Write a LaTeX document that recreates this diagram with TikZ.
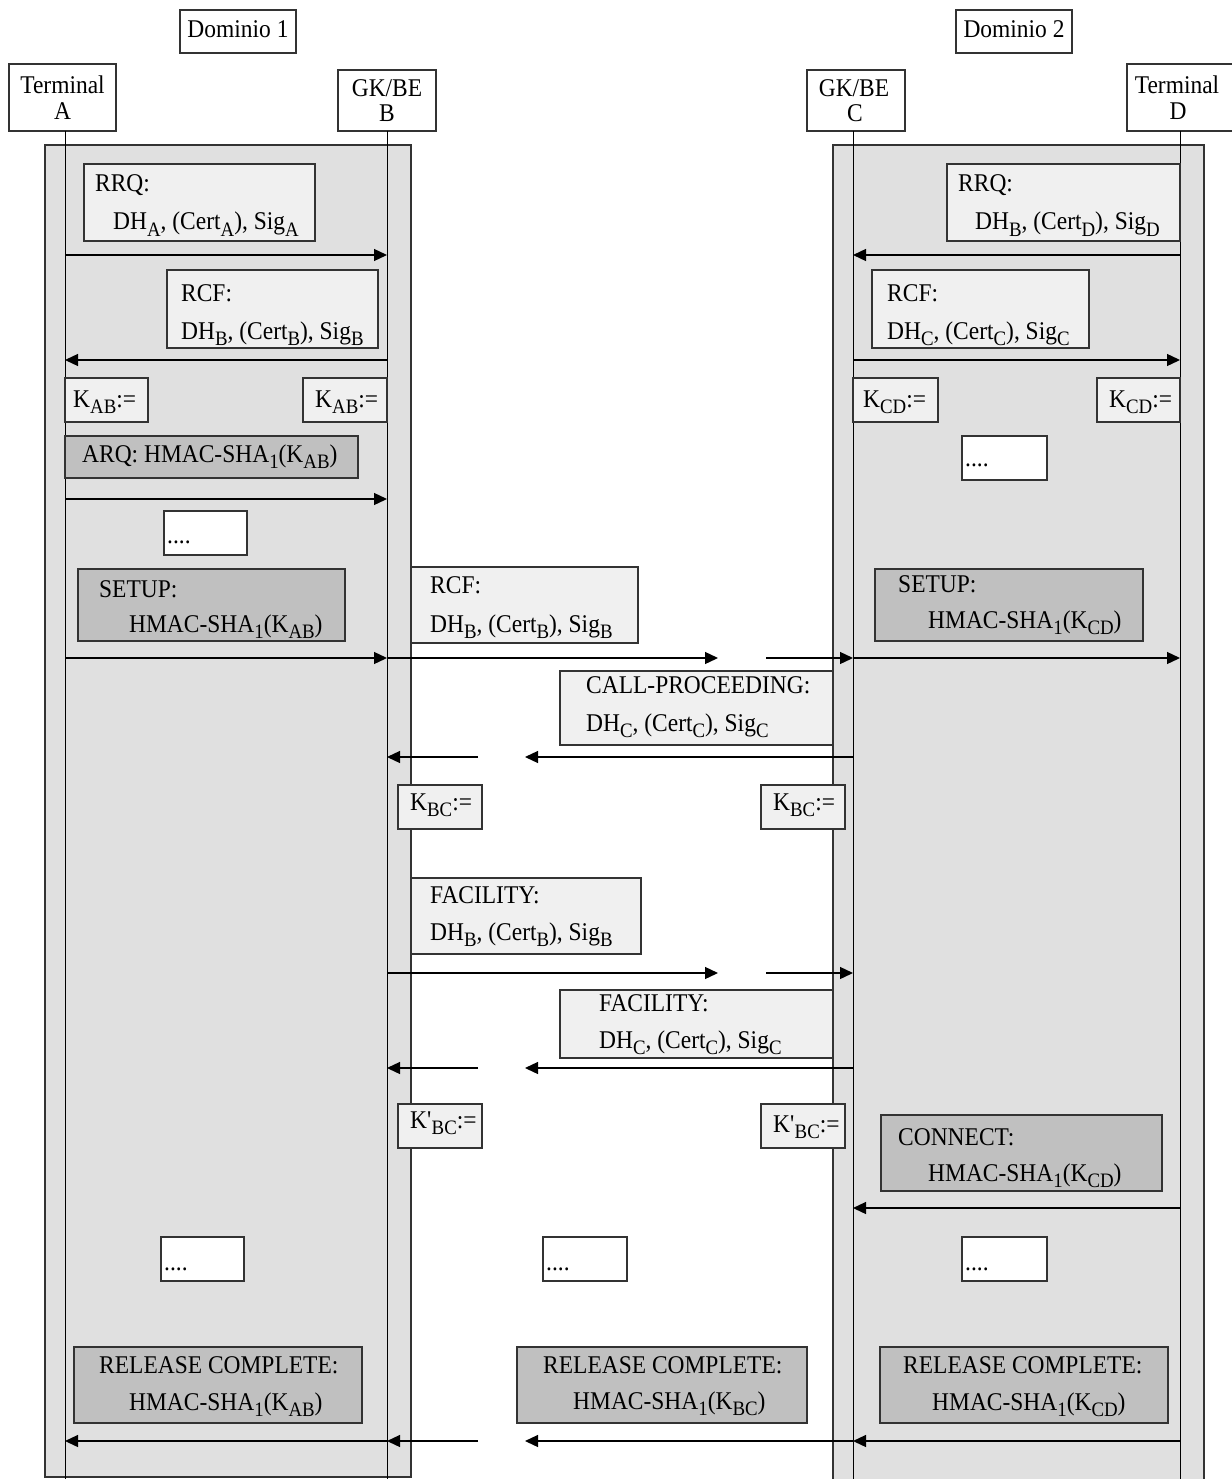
\documentclass[tikz,border=0pt]{standalone}
\usepackage{fontspec}
\setmainfont{Liberation Serif}[FakeStretch=0.92]
\usetikzlibrary{arrows.meta,fit}
\newcommand\sbs[1]{\raisebox{-6pt}{\fontsize{20.5}{20.5}\selectfont #1}}
\definecolor{domfill}{HTML}{E0E0E0}
\definecolor{litefill}{HTML}{F0F0F0}
\definecolor{darkfill}{HTML}{C0C0C0}
\definecolor{edgecol}{HTML}{333333}
\newcommand\bx[4]{\node[#2, fit={#3 #4}] (#1) {};}
\newcommand\tl[3]{\node[txt] (#1) at #2 {#3};}
\newcommand\msg[3]{\draw[msgarrow] (#1 |- 0,#3) -- (#2 |- 0,#3);}
\begin{document}
\begin{tikzpicture}[x=1pt,y=-1pt,
  every node/.style={font=\fontsize{25.5}{30}\selectfont},
  txt/.style={inner sep=0pt, anchor=base west},
  ctxt/.style={inner sep=0pt, anchor=base},
  hdr/.style={draw=edgecol, line width=1.3pt, fill=white, inner sep=0pt},
  lite/.style={draw=edgecol, line width=1.3pt, fill=litefill, inner sep=0pt},
  dark/.style={draw=edgecol, line width=1.3pt, fill=darkfill, inner sep=0pt},
  dotbox/.style={draw=edgecol, line width=1.3pt, fill=white, inner sep=0pt},
  dombox/.style={draw=edgecol, line width=1.5pt, fill=domfill, inner sep=0pt},
  life/.style={draw=black, line width=1pt},
  msgarrow/.style={draw=black, line width=1.3pt, -{Triangle[length=13pt,width=12pt]}}
]
\useasboundingbox[fill=white] (0,0) rectangle (1231,1479);

% header boxes
\bx{dom1}{hdr}{(180,10)}{(296,53)}
\node[ctxt] (dom1t) at (238,38) {Dominio 1};
\bx{dom2}{hdr}{(956,10)}{(1072,53)}
\node[ctxt] (dom2t) at (1014,38) {Dominio 2};
\bx{tA}{hdr}{(9,64)}{(116,131)}
\node[ctxt] (tA1) at (62.5,94) {Terminal};
\node[ctxt] (tA2) at (62.5,120) {A};
\bx{gB}{hdr}{(338,70)}{(436,131)}
\node[ctxt] (gB1) at (387,97) {GK/BE};
\node[ctxt] (gB2) at (387,122) {B};
\bx{gC}{hdr}{(807,70)}{(905,131)}
\node[ctxt] (gC1) at (854,97) {GK/BE};
\node[ctxt] (gC2) at (855,122) {C};
\bx{tD}{hdr}{(1127,64)}{(1245,131)}
\node[ctxt] (tD1) at (1177,94) {Terminal};
\node[ctxt] (tD2) at (1178,120) {D};

% domain boxes
\bx{domL}{dombox}{(45,145)}{(411,1477)}
\bx{domR}{dombox}{(833,145)}{(1204,1495)}

% lifelines
\coordinate (LA) at (65,131);  \coordinate (LAe) at (65,1479);
\coordinate (LB) at (387,131); \coordinate (LBe) at (387,1479);
\coordinate (LC) at (853,131); \coordinate (LCe) at (853,1479);
\coordinate (LD) at (1180,131); \coordinate (LDe) at (1180,1479);
\draw[life] (LA) -- (LAe);
\draw[life] (LB) -- (LBe);
\draw[life] (LC) -- (LCe);
\draw[life] (LD) -- (LDe);
\coordinate (G1) at (478,0);
\coordinate (G2) at (525,0);
\coordinate (G3) at (718,0);
\coordinate (G4) at (766,0);

% RRQ
\bx{rrqA}{lite}{(84,164)}{(315,241)}
\tl{rrqA1}{(95,192)}{RRQ:}
\tl{rrqA2}{(113,230)}{DH\sbs{A}, (Cert\sbs{A}), Sig\sbs{A}}
\bx{rrqD}{lite}{(947,164)}{(1180,241)}
\tl{rrqD1}{(958,192)}{RRQ:}
\tl{rrqD2}{(975,230)}{DH\sbs{B}, (Cert\sbs{D}), Sig\sbs{D}}
% RCF
\bx{rcfB}{lite}{(167,270)}{(378,348)}
\tl{rcfB1}{(181,301)}{RCF:}
\tl{rcfB2}{(181,339)}{DH\sbs{B}, (Cert\sbs{B}), Sig\sbs{B}}
\bx{rcfC}{lite}{(872,270)}{(1089,348)}
\tl{rcfC1}{(887,301)}{RCF:}
\tl{rcfC2}{(887,339)}{DH\sbs{C}, (Cert\sbs{C}), Sig\sbs{C}}
% keys
\bx{kAB1}{lite}{(65,378)}{(148,422)}
\tl{kAB1t}{(73,407)}{K\sbs{AB}:=}
\bx{kAB2}{lite}{(303,378)}{(387,422)}
\tl{kAB2t}{(315,407)}{K\sbs{AB}:=}
\bx{kCD1}{lite}{(853,378)}{(938,422)}
\tl{kCD1t}{(863,407)}{K\sbs{CD}:=}
\bx{kCD2}{lite}{(1097,378)}{(1180,422)}
\tl{kCD2t}{(1109,407)}{K\sbs{CD}:=}
% ARQ
\bx{arq}{dark}{(65,436)}{(358,478)}
\tl{arqt}{(82,462)}{ARQ: HMAC-SHA\sbs{1}(K\sbs{AB})}
% dots
\bx{dA1}{dotbox}{(164,511)}{(247,555)}
\tl{dA1t}{(167,543)}{....}
\bx{dD1}{dotbox}{(962,436)}{(1047,480)}
\tl{dD1t}{(965,466)}{....}
% SETUP
\bx{setA}{dark}{(78,569)}{(345,641)}
\tl{setA1}{(99,597)}{SETUP:}
\tl{setA2}{(129,632)}{HMAC-SHA\sbs{1}(K\sbs{AB})}
\bx{rcfM}{lite}{(411,567)}{(638,643)}
\tl{rcfM1}{(430,593)}{RCF:}
\tl{rcfM2}{(430,632)}{DH\sbs{B}, (Cert\sbs{B}), Sig\sbs{B}}
\bx{setD}{dark}{(875,569)}{(1143,641)}
\tl{setD1}{(898,592)}{SETUP:}
\tl{setD2}{(928,628)}{HMAC-SHA\sbs{1}(K\sbs{CD})}
% CALL-PROCEEDING
\bx{callP}{lite}{(560,671)}{(833,745)}
\tl{callP1}{(586,693)}{CALL-PROCEEDING:}
\tl{callP2}{(586,731)}{DH\sbs{C}, (Cert\sbs{C}), Sig\sbs{C}}
\bx{kBC1}{lite}{(398,785)}{(482,829)}
\tl{kBC1t}{(410,810)}{K\sbs{BC}:=}
\bx{kBC2}{lite}{(761,785)}{(845,829)}
\tl{kBC2t}{(773,810)}{K\sbs{BC}:=}
% FACILITY
\bx{facB}{lite}{(411,878)}{(641,954)}
\tl{facB1}{(430,903)}{FACILITY:}
\tl{facB2}{(430,940)}{DH\sbs{B}, (Cert\sbs{B}), Sig\sbs{B}}
\bx{facC}{lite}{(560,990)}{(833,1058)}
\tl{facC1}{(599,1011)}{FACILITY:}
\tl{facC2}{(599,1048)}{DH\sbs{C}, (Cert\sbs{C}), Sig\sbs{C}}
\bx{kpBC1}{lite}{(398,1104)}{(482,1148)}
\tl{kpBC1t}{(410,1128)}{K\textquotesingle\sbs{BC}:=}
\bx{kpBC2}{lite}{(761,1104)}{(845,1148)}
\tl{kpBC2t}{(773,1132)}{K\textquotesingle\sbs{BC}:=}
% CONNECT
\bx{conn}{dark}{(881,1115)}{(1162,1191)}
\tl{conn1}{(898,1145)}{CONNECT:}
\tl{conn2}{(928,1181)}{HMAC-SHA\sbs{1}(K\sbs{CD})}
% dots row
\bx{dA2}{dotbox}{(161,1237)}{(244,1281)}
\tl{dA2t}{(164,1270)}{....}
\bx{dM}{dotbox}{(543,1237)}{(627,1281)}
\tl{dMt}{(546,1270)}{....}
\bx{dD2}{dotbox}{(962,1237)}{(1047,1281)}
\tl{dD2t}{(965,1270)}{....}
% RELEASE COMPLETE
\bx{relA}{dark}{(74,1347)}{(362,1423)}
\tl{relA1}{(99,1373)}{RELEASE COMPLETE:}
\tl{relA2}{(129,1410)}{HMAC-SHA\sbs{1}(K\sbs{AB})}
\bx{relM}{dark}{(517,1347)}{(807,1423)}
\tl{relM1}{(543,1373)}{RELEASE COMPLETE:}
\tl{relM2}{(573,1409)}{HMAC-SHA\sbs{1}(K\sbs{BC})}
\bx{relD}{dark}{(880,1347)}{(1168,1423)}
\tl{relD1}{(903,1373)}{RELEASE COMPLETE:}
\tl{relD2}{(932,1410)}{HMAC-SHA\sbs{1}(K\sbs{CD})}

% messages
\msg{LA}{LB}{255}
\msg{LD}{LC}{255}
\msg{LB}{LA}{360}
\msg{LC}{LD}{360}
\msg{LA}{LB}{499}
\msg{LA}{LB}{658}
\msg{LB}{G3}{658}
\msg{G4}{LC}{658}
\msg{LC}{LD}{658}
\msg{LC}{G2}{757}
\msg{G1}{LB}{757}
\msg{LB}{G3}{973}
\msg{G4}{LC}{973}
\msg{LC}{G2}{1068}
\msg{G1}{LB}{1068}
\msg{LD}{LC}{1208}
\msg{LD}{LC}{1441}
\msg{LC}{G2}{1441}
\msg{G1}{LB}{1441}
\msg{LB}{LA}{1441}
\end{tikzpicture}
\end{document}
